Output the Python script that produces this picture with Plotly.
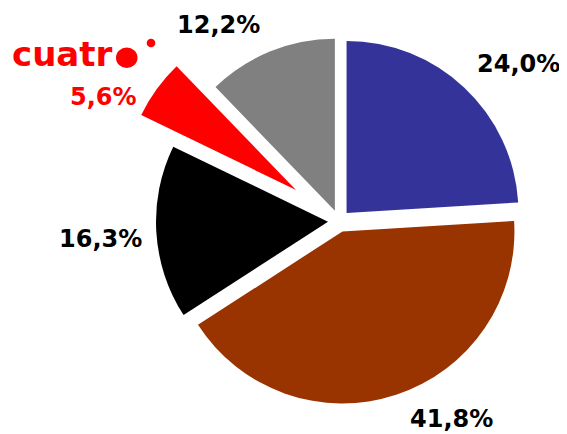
import plotly.graph_objects as go

# ---- data ----
labels = ["A", "B", "C", "cuatro", "D"]
values = [24.0, 41.8, 16.3, 5.6, 12.2]
colors = ["#333399", "#993300", "#000000", "#FF0000", "#808080"]
highlight = "cuatro"

# ---- layout constants (screen pixels) ----
OFF = 8                             # page margin around the figure
W, H = 567 - OFF, 434 - OFF
cx, cy, R = 339, 221, 172           # pie centre and radius
pull_small = 0.064
red_offset = (296, 190)             # centre used for the exploded slice
label_pos = [(518, 64), (451, 419), (100, 239), (103, 97), (219, 25)]

def xpaper(px):
    return (px - OFF) / W

def ypaper(py):
    return 1 - (py - OFF) / H

fig = go.Figure()

# main pie (all slices slightly pulled, highlighted slice hidden)
boxA = R * (1 + pull_small)
colsA = [c if l != highlight else "rgba(0,0,0,0)" for l, c in zip(labels, colors)]
fig.add_trace(go.Pie(
    labels=labels, values=values, sort=False, direction="clockwise", rotation=0,
    marker=dict(colors=colsA, line=dict(width=0)),
    pull=[pull_small] * len(values), textinfo="none", hoverinfo="label+percent",
    domain=dict(x=[xpaper(cx - boxA), xpaper(cx + boxA)],
                y=[ypaper(cy + boxA), ypaper(cy - boxA)]),
    showlegend=False,
))

# exploded slice drawn from a shifted pie
rx, ry = red_offset
colsB = [c if l == highlight else "rgba(0,0,0,0)" for l, c in zip(labels, colors)]
fig.add_trace(go.Pie(
    labels=labels, values=values, sort=False, direction="clockwise", rotation=0,
    marker=dict(colors=colsB, line=dict(width=0)),
    textinfo="none", hoverinfo="skip",
    domain=dict(x=[xpaper(rx - R), xpaper(rx + R)],
                y=[ypaper(ry + R), ypaper(ry - R)]),
    showlegend=False,
))

annotations = []
for l, v, c, (px, py) in zip(labels, values, colors, label_pos):
    txt = f"{v:.1f}".replace(".", ",") + "%"
    annotations.append(dict(
        text=txt, x=xpaper(px), y=ypaper(py), xref="paper", yref="paper",
        xanchor="center", yanchor="middle", showarrow=False, borderpad=0,
        font=dict(family="DejaVu Sans", size=24, color="#FF0000" if l == highlight else "#000000",
                  weight="bold"),
    ))

# cuatro logo text
annotations.append(dict(
    text="cuatr", x=xpaper(10), y=ypaper(54), xref="paper", yref="paper",
    xanchor="left", yanchor="middle", showarrow=False,
    font=dict(family="DejaVu Sans", size=34, color="#FF0000", weight="bold"),
))

shapes = [
    dict(type="circle", xref="paper", yref="paper", fillcolor="#FF0000", line=dict(width=0),
         x0=xpaper(116), x1=xpaper(137.5), y0=ypaper(68), y1=ypaper(47.5)),
    dict(type="circle", xref="paper", yref="paper", fillcolor="#FF0000", line=dict(width=0),
         x0=xpaper(146.7), x1=xpaper(155.3), y0=ypaper(47.3), y1=ypaper(38.7)),
]

fig.update_layout(
    width=W, height=H, margin=dict(l=0, r=0, t=0, b=0),
    paper_bgcolor="white", plot_bgcolor="white",
    annotations=annotations, shapes=shapes, showlegend=False,
)

fig.write_html("out.html")
